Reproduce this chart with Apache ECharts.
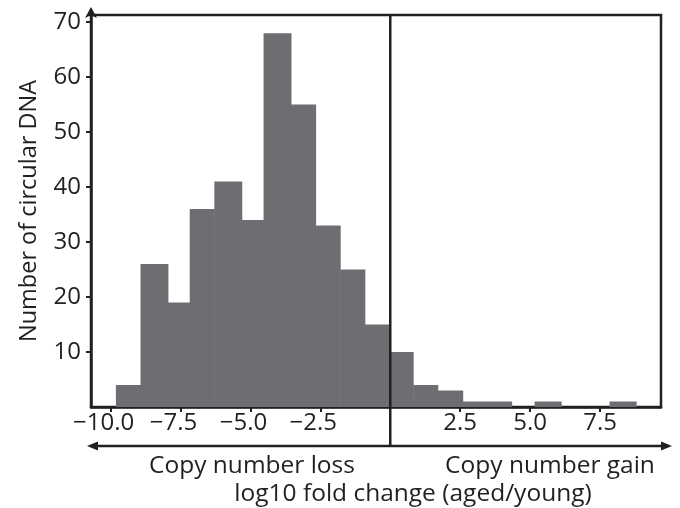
<!DOCTYPE html>
<html>
<head>
<meta charset="utf-8">
<title>Circular DNA fold change</title>
<script src="https://cdn.jsdelivr.net/npm/echarts@6/dist/echarts.min.js"></script>
<style>
  html, body { margin: 0; padding: 0; background: #fff; }
  #chart { width: 680px; height: 508px; }
</style>
</head>
<body>
<div id="chart"></div>
<script>
// histogram bins
const lossEdges = [-9.81, -8.93, -7.95, -7.17, -6.29, -5.31, -4.53, -3.55, -2.67, -1.79, -0.91, 0];
const lossCounts = [4, 26, 19, 36, 41, 34, 68, 55, 33, 25, 15];
const gainEdges = [0, 0.82, 1.70, 2.59, 3.46, 4.34, 5.16, 6.11, 6.98, 7.84, 8.79];
const gainCounts = [10, 4, 3, 1, 1, 0, 1, 0, 0, 1];

const xTicks = [-10, -7.5, -5, -2.5, 2.5, 5, 7.5];
const yTicks = [10, 20, 30, 40, 50, 60, 70];

const INK = "#231f20";
const BAR = "#6d6e71";
const FONT = "Open Sans";

// [start, end, count]
const bins = [];
lossCounts.forEach((c, i) => bins.push([lossEdges[i], lossEdges[i + 1], c]));
gainCounts.forEach((c, i) => bins.push([gainEdges[i], gainEdges[i + 1], c]));

const chart = echarts.init(document.getElementById("chart"));

const fmtTick = (v) => {
  const s = Math.abs(v).toFixed(1);
  // numeric part centred on the tick, minus sign hangs to the left
  return v < 0 ? "{neg|\u2212" + s + "}" : s;
};

const option = {
  animation: false,
  grid: {
    left: 91,
    right: 19,
    top: 15,
    bottom: 101,
    show: true,
    borderColor: INK,
    borderWidth: 2.5,
  },
  xAxis: {
    type: "value",
    min: -10.7,
    max: 9.68,
    splitLine: { show: false },
    axisLine: { show: true, onZero: false, lineStyle: { color: INK, width: 2.5 } },
    axisTick: { show: true, customValues: xTicks, length: 5, lineStyle: { color: INK, width: 2 } },
    axisLabel: {
      customValues: xTicks,
      formatter: fmtTick,
      color: INK,
      fontFamily: FONT,
      fontSize: 24,
      margin: 4,
      rich: {
        neg: { fontFamily: FONT, fontSize: 24, color: INK, padding: [0, 14, 0, 0] },
      },
    },
  },
  yAxis: {
    type: "value",
    min: 0,
    max: 71.3,
    name: "Number of circular DNA",
    nameLocation: "middle",
    nameGap: 50,
    nameTextStyle: { color: INK, fontFamily: FONT, fontSize: 23.5, padding: [0, 0, 0, 0] },
    splitLine: { show: false },
    axisLine: {
      show: true,
      onZero: false,
      lineStyle: { color: INK, width: 2.5 },
      symbol: ["none", "arrow"],
      symbolSize: [9, 11],
      symbolOffset: [0, 8],
    },
    axisTick: { show: true, customValues: yTicks, length: 5, lineStyle: { color: INK, width: 2 } },
    axisLabel: {
      customValues: yTicks,
      color: INK,
      fontFamily: FONT,
      fontSize: 24,
      margin: 10,
    },
  },
  series: [
    {
      type: "custom",
      data: bins,
      encode: { x: [0, 1], y: 2 },
      renderItem: (params, api) => {
        if (!api.value(2)) return null;
        const p0 = api.coord([api.value(0), api.value(2)]);
        const p1 = api.coord([api.value(1), 0]);
        return {
          type: "rect",
          shape: { x: p0[0], y: p0[1], width: p1[0] - p0[0] + 0.5, height: p1[1] - p0[1] },
          style: { fill: BAR },
        };
      },
      z: 1,
    },
  ],
};

chart.setOption(option);

// divider at zero, double arrow and captions underneath
const zeroPx = chart.convertToPixel({ gridIndex: 0 }, [0, 0]);
const topPx = chart.convertToPixel({ gridIndex: 0 }, [0, 71.3]);
const arrowY = 446;
const arrowL = 87;
const arrowR = 672;
const capFont = "24.5px '" + FONT + "'";

chart.setOption({
  graphic: [
    {
      type: "line",
      shape: { x1: zeroPx[0], y1: topPx[1], x2: zeroPx[0], y2: arrowY },
      style: { stroke: INK, lineWidth: 2.5 },
      z: 10,
    },
    {
      type: "line",
      shape: { x1: arrowL + 8, y1: arrowY, x2: arrowR - 8, y2: arrowY },
      style: { stroke: INK, lineWidth: 2.5 },
      z: 10,
    },
    {
      type: "polygon",
      shape: { points: [[arrowL, arrowY], [arrowL + 11, arrowY - 4.5], [arrowL + 11, arrowY + 4.5]] },
      style: { fill: INK },
      z: 10,
    },
    {
      type: "polygon",
      shape: { points: [[arrowR, arrowY], [arrowR - 11, arrowY - 4.5], [arrowR - 11, arrowY + 4.5]] },
      style: { fill: INK },
      z: 10,
    },
    {
      type: "text",
      x: 252,
      y: 466,
      style: { text: "Copy number loss", fill: INK, font: capFont, align: "center", verticalAlign: "middle" },
    },
    {
      type: "text",
      x: 550,
      y: 466,
      style: { text: "Copy number gain", fill: INK, font: capFont, align: "center", verticalAlign: "middle" },
    },
    {
      type: "text",
      x: 413,
      y: 494,
      style: { text: "log10 fold change (aged/young)", fill: INK, font: capFont, align: "center", verticalAlign: "middle" },
    },
  ],
});
</script>
</body>
</html>
